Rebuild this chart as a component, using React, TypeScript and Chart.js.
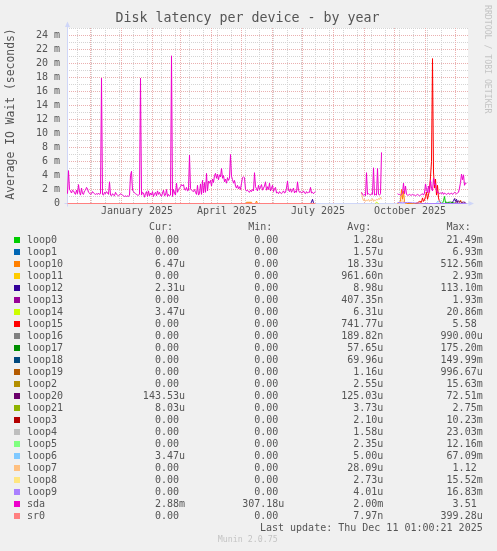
import { useEffect, useRef } from 'react';
import { Chart, registerables } from 'chart.js';

Chart.register(...registerables);

const MONO = '"DejaVu Sans Mono", "Liberation Mono", monospace';
const TEXT = '#555555';

const chartTitle = 'Disk latency per device - by year';
const yAxisTitle = 'Average IO Wait (seconds)';
const watermark = 'RRDTOOL / TOBI OETIKER';
const lastUpdate = 'Last update: Thu Dec 11 01:00:21 2025';
const muninVersion = 'Munin 2.0.75';

// x axis in days since 2024-11-08
const xMaxDay = 400;
const xTickDays = [69.5, 159.5, 250.5, 342.5];
const xTickLabels = ['January 2025', 'April 2025', 'July 2025', 'October 2025'];
const monthStartDays = [23, 54, 85, 113, 144, 174, 205, 235, 266, 297, 327, 358, 388];
const weekGridStartDay = 9.7;
const weekGridStepDays = 14;

// y axis in milliseconds
const yMaxMs = 25;
const yTickValues = [0, 2, 4, 6, 8, 10, 12, 14, 16, 18, 20, 22, 24];

const seriesNames = [
  'loop0', 'loop1', 'loop10', 'loop11', 'loop12', 'loop13', 'loop14', 'loop15',
  'loop16', 'loop17', 'loop18', 'loop19', 'loop2', 'loop20', 'loop21', 'loop3',
  'loop4', 'loop5', 'loop6', 'loop7', 'loop8', 'loop9', 'sda', 'sr0',
];
const seriesColors = [
  '#00CC00', '#0066B3', '#FF8000', '#FFCC00', '#330099', '#990099', '#CCFF00', '#FF0000',
  '#808080', '#008F00', '#00487D', '#B35A00', '#B38F00', '#6B006B', '#8FB300', '#B30000',
  '#BEBEBE', '#80FF80', '#80C9FF', '#FFC080', '#FFE680', '#AA80FF', '#EE00CC', '#FF8080',
];
const curStats = [
  '0.00', '0.00', '6.47u', '0.00', '2.31u', '0.00', '3.47u', '0.00',
  '0.00', '0.00', '0.00', '0.00', '0.00', '143.53u', '8.03u', '0.00',
  '0.00', '0.00', '3.47u', '0.00', '0.00', '0.00', '2.88m', '0.00',
];
const minStats = [
  '0.00', '0.00', '0.00', '0.00', '0.00', '0.00', '0.00', '0.00',
  '0.00', '0.00', '0.00', '0.00', '0.00', '0.00', '0.00', '0.00',
  '0.00', '0.00', '0.00', '0.00', '0.00', '0.00', '307.18u', '0.00',
];
const avgStats = [
  '1.28u', '1.57u', '18.33u', '961.60n', '8.98u', '407.35n', '6.31u', '741.77u',
  '189.82n', '57.65u', '69.96u', '1.16u', '2.55u', '125.03u', '3.73u', '2.10u',
  '1.58u', '2.35u', '5.00u', '28.09u', '2.73u', '4.01u', '2.00m', '7.97n',
];
const maxStats = [
  '21.49m', '6.93m', '512.56m', '2.93m', '113.10m', '1.93m', '20.86m', '5.58',
  '990.00u', '175.20m', '149.99m', '996.67u', '15.63m', '72.51m', '2.75m', '10.23m',
  '23.03m', '12.16m', '67.09m', '1.12', '15.52m', '16.83m', '3.51', '399.28u',
];

// sda daily values (ms)
const sdaSeg1Start = 0;
const sdaSeg1 = [
  1.4, 4.7, 2.0, 1.8, 1.5, 1.9, 1.8, 1.5, 1.3, 1.9,
  1.4, 2.7, 1.6, 1.2, 2.2, 1.4, 1.3, 1.8, 1.9, 2.3,
  2.1, 1.6, 1.5, 1.3, 1.4, 1.7, 1.5, 1.4, 1.3, 1.4,
  1.3, 1.5, 1.3, 1.4, 17.9, 1.3, 1.2, 1.6, 1.4, 1.7,
  1.5, 1.3, 3.1, 1.2, 1.1, 1.4, 1.2, 1.1, 1.6, 1.3,
  1.2, 1.1, 1.2, 1.4, 1.3, 1.2, 1.1, 1.0, 1.1, 1.0,
  1.1, 1.0, 1.2, 4.0, 4.6, 1.9, 1.7, 1.5, 1.4, 1.3,
  1.2, 1.2, 1.3, 17.9, 1.2, 1.6, 1.5, 0.9, 1.4, 1.7,
  1.0, 1.8, 1.1, 1.5, 1.2, 1.7, 1.0, 1.4, 1.6, 1.1,
  1.8, 1.3, 1.6, 1.2, 1.0, 1.5, 1.9, 1.1, 1.2, 2.0,
  1.0, 1.3, 1.1, 1.2, 21.1, 1.0, 2.0, 1.5, 1.2, 2.9,
  1.6, 2.0, 2.2, 2.4, 2.7, 2.5, 2.7, 2.0, 1.9, 2.3,
  1.8, 1.9, 6.9, 2.1, 1.9, 1.8, 1.7, 2.0, 1.6, 1.3,
  2.6, 1.2, 1.4, 2.8, 1.3, 3.3, 1.5, 3.0, 1.6, 4.3,
  1.8, 3.2, 2.9, 3.3, 2.5, 3.5, 3.0, 4.0, 4.3, 3.6,
  4.2, 3.4, 4.1, 3.8, 5.0, 3.6, 4.0, 3.1, 3.5, 2.9,
  3.7, 3.3, 3.6, 7.0, 3.9, 3.4, 2.9, 3.3, 2.5, 2.2,
  2.6, 2.1, 2.4, 2.0, 2.9, 3.7, 3.8, 3.7, 2.0, 1.8,
  1.9, 1.7, 1.6, 1.9, 1.7, 2.0, 1.8, 4.4, 2.4, 2.1,
  1.8, 2.6, 2.0, 2.3, 2.7, 1.9, 2.2, 2.5, 3.1, 1.9,
  2.4, 2.0, 2.9, 1.8, 2.2, 2.6, 1.7, 2.1, 2.3, 1.5,
  1.6, 1.4, 1.7, 1.5, 1.4, 1.6, 1.8, 1.5, 1.6, 2.2,
  3.2, 1.9, 1.7, 2.1, 1.6, 1.9, 2.2, 1.5, 1.8, 1.6,
  3.1, 1.9, 1.6, 1.7, 1.5, 1.6, 1.8, 1.5, 1.4, 1.7,
  1.5, 1.6, 1.6, 2.3, 1.5, 1.6, 1.4, 1.6, 1.7,
];
const sdaSeg2Start = 294;
const sdaSeg2 = [
  1.6, 1.3, 1.2, 1.3, 1.1, 4.4, 1.3, 1.4, 1.3, 1.2,
  1.4, 1.3, 5.1, 1.2, 1.3, 1.2, 5.0, 1.3, 1.2, 1.4, 7.3,
];
const sdaSeg3Start = 330;
const sdaSeg3 = [
  1.4, 1.3, 1.3, 1.2, 1.3, 1.5, 2.9, 1.4, 2.5, 1.3,
  1.2, 1.2, 1.3, 1.2, 1.2, 1.3, 1.2, 1.2, 1.1, 1.2,
  1.3, 1.2, 1.1, 1.2, 1.3, 1.4, 1.2, 1.5, 2.8, 2.0,
  1.5, 2.5, 1.6, 3.3, 2.2, 1.8, 3.6, 2.7, 2.8, 1.9,
  1.5, 1.6, 1.4, 1.5, 1.4, 1.6, 1.3, 1.5, 1.4, 1.3,
  1.4, 1.5, 1.3, 1.4, 1.5, 1.3, 1.4, 1.6, 1.5, 1.4,
  1.5, 1.6, 2.2, 3.0, 4.2, 3.4, 4.1, 2.6, 2.9, 2.9,
];

type Pair = [number, number];

// other devices: [day, ms] pairs
const loop0Seg: Pair[] = [[375, 0], [376, 0.4], [377, 1.0], [378, 0.1], [379, 0]];
const loop10SegA: Pair[] = [[178, 0], [179, 0.17], [184, 0.17], [185, 0], [188, 0], [189, 0.35], [190, 0]];
const loop10SegB: Pair[] = [
  [330, 0], [333, 0.3], [334, 2.0], [335, 0.6], [336, 1.8], [337, 0.2], [338, 0],
  [352, 0], [353, 0.25], [354, 0], [392, 0], [393, 0.5], [394, 0.15], [395, 0],
];
const loop12SegA: Pair[] = [[243, 0], [244, 0.2], [245, 0.6], [246, 0.1], [247, 0]];
const loop12SegB: Pair[] = [[384, 0], [386, 0.4], [387, 0.7], [388, 0.3], [389, 0.6], [390, 0.2], [391, 0]];
const loop14Seg: Pair[] = [[308, 0], [309, 0.2], [310, 0.1], [311, 0]];
const loop15Seg: Pair[] = [
  [348, 0], [350, 0.1], [352, 0.3], [354, 0.2], [355, 0.8], [356, 0.3], [357, 0.5],
  [358, 1.0], [359, 1.6], [360, 0.6], [361, 1.2], [362, 2.0], [363, 3.8], [364, 6.0],
  [365, 20.7], [366, 4.5], [367, 2.2], [368, 3.5], [369, 1.2], [370, 2.6], [371, 0.8],
  [372, 0.3], [373, 0.1], [374, 0],
];
const loop17Seg: Pair[] = [[378, 0.2], [380, 0.15], [383, 0.2], [386, 0.1], [388, 0]];
const loop20Seg: Pair[] = [
  [388, 0], [389, 0.3], [390, 0.2], [391, 0.4], [392, 0.2], [393, 0.3], [394, 0.15],
  [396, 0.2], [398, 0.15],
];
const loop6Seg: Pair[] = [[369, 0], [370, 0.3], [371, 0.2], [372, 0.4], [373, 0.3], [374, 0.1], [375, 0]];
const loop7SegA: Pair[] = [
  [294, 1.6], [295, 0.8], [296, 0.4], [297, 0.6], [298, 0.3], [299, 0.5], [300, 0.4],
  [301, 0.6], [302, 0.3], [303, 0.5], [304, 0.4], [305, 0.7], [306, 0.3], [307, 0.5],
  [308, 0.4], [309, 0.6], [310, 0.5], [311, 0.7], [312, 0.6], [313, 0.9], [314, 0.6],
];
const loop7SegB: Pair[] = [[330, 0], [333, 0.2], [334, 0.4], [336, 0.3], [338, 0.1], [339, 0]];
const loop9Seg: Pair[] = [[330, 0.15], [335, 0.1], [340, 0.15], [345, 0.1], [350, 0.05], [355, 0], [399, 0]];
const sr0Seg: Pair[] = [[0, 0], [248, 0]];

function runToPairs(start: number, values: number[]): Pair[] {
  return values.map((v, i) => [start + i, v] as Pair);
}

const seriesSegments: Record<string, Pair[][]> = {
  loop0: [loop0Seg],
  loop10: [loop10SegA, loop10SegB],
  loop12: [loop12SegA, loop12SegB],
  loop14: [loop14Seg],
  loop15: [loop15Seg],
  loop17: [loop17Seg],
  loop20: [loop20Seg],
  loop6: [loop6Seg],
  loop7: [loop7SegA, loop7SegB],
  loop9: [loop9Seg],
  sda: [
    runToPairs(sdaSeg1Start, sdaSeg1),
    runToPairs(sdaSeg2Start, sdaSeg2),
    runToPairs(sdaSeg3Start, sdaSeg3),
  ],
  sr0: [sr0Seg],
};

function toPoints(segs: Pair[][]) {
  const out: { x: number; y: number | null }[] = [];
  segs.forEach((seg, k) => {
    if (k > 0) {
      const prev = segs[k - 1];
      out.push({ x: (prev[prev.length - 1][0] + seg[0][0]) / 2, y: null });
    }
    seg.forEach(([x, y]) => out.push({ x, y }));
  });
  return out;
}

const muninPlugin = {
  id: 'muninDecor',
  beforeDraw(chart: any) {
    const { ctx, chartArea: a } = chart;
    ctx.save();
    ctx.fillStyle = '#F0F0F0';
    ctx.fillRect(0, 0, chart.width, chart.height);
    ctx.fillStyle = '#FFFFFF';
    ctx.fillRect(Math.floor(a.left), Math.floor(a.top), Math.ceil(a.right) - Math.floor(a.left), Math.ceil(a.bottom) - Math.floor(a.top));
    ctx.restore();
  },
  beforeDatasetsDraw(chart: any) {
    const { ctx, chartArea: a, scales } = chart;
    const xs = scales.x;
    const ys = scales.y;
    ctx.save();
    ctx.lineWidth = 1;
    ctx.setLineDash([1, 1]);
    const snap = (p: number) => Math.floor(p) + 0.5;
    const L = Math.floor(a.left);
    const R = Math.ceil(a.right);
    const T = Math.floor(a.top);
    const B = Math.floor(a.bottom);
    const hLine = (y: number) => { ctx.beginPath(); ctx.moveTo(L, y); ctx.lineTo(R, y); ctx.stroke(); };
    const vLine = (x: number) => { ctx.beginPath(); ctx.moveTo(x, T); ctx.lineTo(x, B); ctx.stroke(); };
    // minor
    ctx.strokeStyle = '#d4d4d4';
    for (let v = 1; v <= yMaxMs; v += 2) hLine(snap(ys.getPixelForValue(v)));
    for (let d = weekGridStartDay; d <= xMaxDay; d += weekGridStepDays) vLine(snap(xs.getPixelForValue(d)));
    // major
    ctx.strokeStyle = '#eab0b0';
    yTickValues.forEach((v) => { if (v !== 0) hLine(snap(ys.getPixelForValue(v))); });
    monthStartDays.forEach((d) => vLine(snap(xs.getPixelForValue(d))));
    // axes
    ctx.setLineDash([]);
    ctx.strokeStyle = '#CFD6F8';
    const x0 = snap(xs.getPixelForValue(0));
    const y0 = snap(ys.getPixelForValue(0));
    ctx.beginPath(); ctx.moveTo(x0, a.bottom + 3); ctx.lineTo(x0, a.top - 2); ctx.stroke();
    ctx.beginPath(); ctx.moveTo(a.left - 3, y0); ctx.lineTo(a.right + 2, y0); ctx.stroke();
    ctx.fillStyle = '#CFD6F8';
    ctx.beginPath(); ctx.moveTo(x0 - 2.5, a.top - 1.5); ctx.lineTo(x0 + 2.5, a.top - 1.5); ctx.lineTo(x0, a.top - 7); ctx.closePath(); ctx.fill();
    ctx.beginPath(); ctx.moveTo(a.right + 1, y0 - 2.5); ctx.lineTo(a.right + 1, y0 + 2.5); ctx.lineTo(a.right + 6.5, y0); ctx.closePath(); ctx.fill();
    ctx.restore();
  },
  afterDraw(chart: any) {
    const { ctx } = chart;
    ctx.save();
    // title
    ctx.fillStyle = TEXT;
    ctx.font = `13.3px ${MONO}`;
    ctx.textAlign = 'center';
    ctx.textBaseline = 'middle';
    ctx.fillText(chartTitle, 247.5, 19);
    // y axis title
    ctx.save();
    ctx.translate(11, 114);
    ctx.rotate(-Math.PI / 2);
    ctx.font = `11.4px ${MONO}`;
    ctx.fillText(yAxisTitle, 0, 0);
    ctx.restore();
    // watermark
    ctx.save();
    ctx.translate(487, 5);
    ctx.rotate(Math.PI / 2);
    ctx.font = `8.2px ${MONO}`;
    ctx.fillStyle = '#c4c4c4';
    ctx.textAlign = 'left';
    ctx.fillText(watermark, 0, 0);
    ctx.restore();
    // legend
    ctx.font = `10px ${MONO}`;
    const cw = ctx.measureText('0').width;
    const colRight = [185, 284.3, 383.3, 482.7];
    const headers = ['Cur:', 'Min:', 'Avg:', 'Max:'];
    ctx.fillStyle = TEXT;
    ctx.textAlign = 'right';
    headers.forEach((h, j) => ctx.fillText(h, colRight[j] - 2 * cw, 227));
    const cols = [curStats, minStats, avgStats, maxStats];
    seriesNames.forEach((name, i) => {
      const y = 240 + 12 * i;
      ctx.fillStyle = seriesColors[i];
      ctx.fillRect(14, y - 3, 6, 6);
      ctx.fillStyle = TEXT;
      ctx.textAlign = 'left';
      ctx.fillText(name, 27, y);
      ctx.textAlign = 'right';
      cols.forEach((col, j) => {
        const s = col[i];
        const hasUnit = /[a-zA-Z]$/.test(s);
        ctx.fillText(s, colRight[j] - (hasUnit ? 0 : cw), y);
      });
    });
    ctx.textAlign = 'right';
    ctx.fillText(lastUpdate, 482.7, 528);
    ctx.textAlign = 'center';
    ctx.font = `8.3px ${MONO}`;
    ctx.fillStyle = '#c4c4c4';
    ctx.fillText(muninVersion, 247.7, 540);
    ctx.restore();
  },
};

export default function App() {
  const canvasRef = useRef<HTMLCanvasElement | null>(null);

  useEffect(() => {
    const canvas = canvasRef.current;
    if (!canvas) return;
    const n = seriesNames.length;
    const datasets = seriesNames.map((name, i) => ({
      label: name,
      data: toPoints(seriesSegments[name] || []),
      borderColor: seriesColors[i],
      backgroundColor: seriesColors[i],
      borderWidth: 1,
      pointRadius: 0,
      tension: 0,
      fill: false,
      spanGaps: false,
      order: n - 1 - i,
      clip: 4,
    }));
    const chart = new Chart(canvas, {
      type: 'line',
      data: { datasets } as any,
      options: {
        animation: false,
        responsive: false,
        devicePixelRatio: 1,
        events: [],
        layout: { padding: { left: 0, right: 29.5, top: 28.5, bottom: 327.5 } },
        scales: {
          x: {
            type: 'linear',
            min: 0,
            max: xMaxDay,
            afterFit: (s: any) => { s.height = 20; },
            afterBuildTicks: (s: any) => { s.ticks = xTickDays.map((value) => ({ value })); },
            ticks: {
              autoSkip: false,
              maxRotation: 0,
              minRotation: 0,
              padding: 2,
              color: TEXT,
              font: { family: MONO, size: 10 },
              callback: (v: any) => xTickLabels[xTickDays.indexOf(Number(v))] ?? '',
            },
            grid: { display: false, drawTicks: false },
            border: { display: false },
          },
          y: {
            type: 'linear',
            min: 0,
            max: yMaxMs,
            afterFit: (s: any) => { s.width = 67.5; },
            afterBuildTicks: (s: any) => { s.ticks = yTickValues.map((value) => ({ value })); },
            ticks: {
              autoSkip: false,
              padding: 7.5,
              color: TEXT,
              font: { family: MONO, size: 10 },
              callback: (v: any) => (Number(v) === 0 ? '0' : `${v} m`),
            },
            grid: { display: false, drawTicks: false },
            border: { display: false },
          },
        },
        plugins: {
          legend: { display: false },
          tooltip: { enabled: false },
          title: { display: false },
        },
      },
      plugins: [muninPlugin],
    } as any);
    return () => chart.destroy();
  }, []);

  return (
    <div style={{ position: 'fixed', left: 0, top: 0, width: 497, height: 551, background: '#F0F0F0' }}>
      <canvas ref={canvasRef} width={497} height={551} style={{ display: 'block', width: 497, height: 551 }} />
    </div>
  );
}
